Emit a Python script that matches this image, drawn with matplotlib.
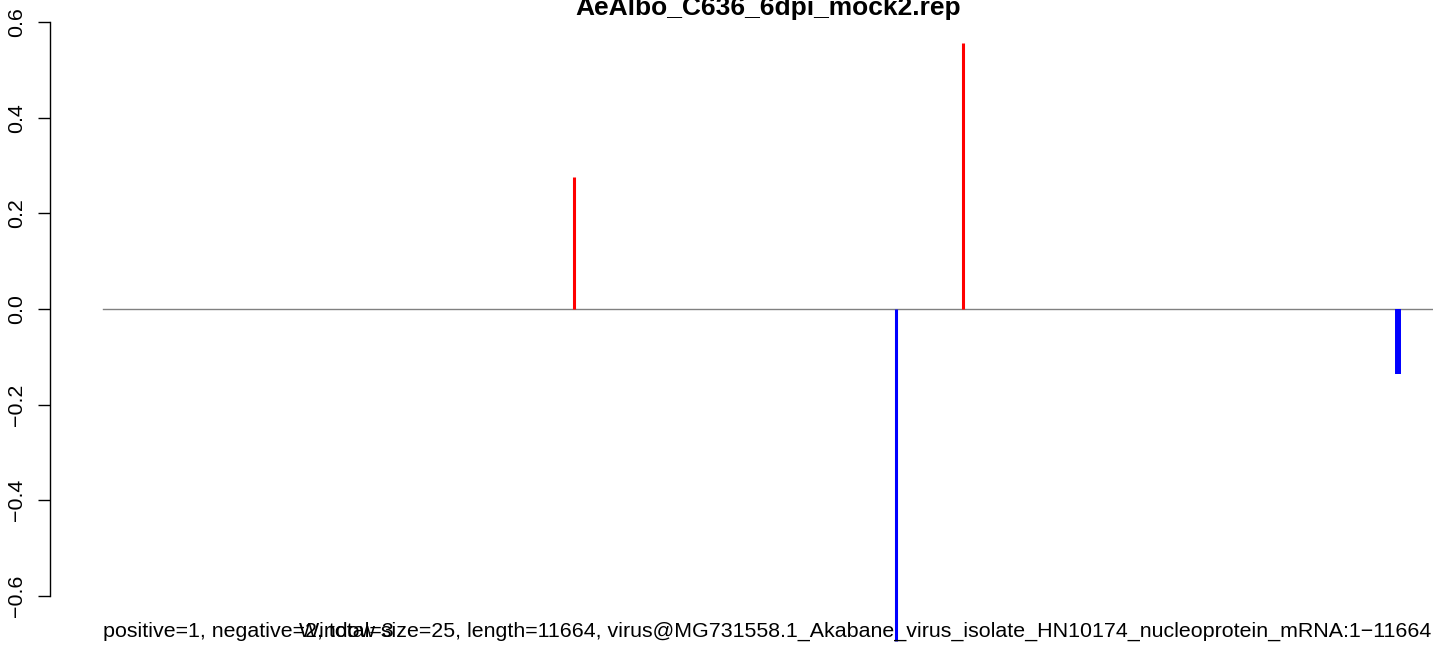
# profil positif / négatif le long du génome viral
import matplotlib.pyplot as plt

plt.rcParams['font.family'] = ['Liberation Sans', 'DejaVu Sans']

# données
longueur = 11664
pos_x = [4131, 7542]
pos_y = [0.277, 0.556]
neg_x = [6955, 11357]
neg_y = [-0.695, -0.136]
yticks = [-0.6, -0.4, -0.2, 0.0, 0.2, 0.4, 0.6]
titre = "AeAlbo_C636_6dpi_mock2.rep"
texte_gauche = "positive=1, negative=2, total=3"
texte_droite = ("Window size=25, length=11664, "
                "virus@MG731558.1_Akabane_virus_isolate_HN10174_nucleoprotein_mRNA:1\u221211664")

W, H = 1433, 645
fig = plt.figure(figsize=(W / 100, H / 100), dpi=100)
ax = fig.add_axes([0, 0, 1, 1])

# conversion pixels -> données (axe occupe toute la figure)
x0_px, x1_px = 103, 1433
y0_px, unite_px = 309, 478.3
echelle_x = longueur / (x1_px - x0_px)
ax.set_xlim(-x0_px * echelle_x, (W - x0_px) * echelle_x)
ax.set_ylim(-(H - y0_px) / unite_px, y0_px / unite_px)

# ligne du zéro
ax.plot([0, longueur], [0, 0], color='#808080', lw=1)

# barres
ax.vlines(pos_x, 0, pos_y, colors='red', linewidths=[2.2, 2.2])
ax.vlines(neg_x, 0, neg_y, colors='blue', linewidths=[2.2, 4.3])

# axe y façon R
for s in ['top', 'right', 'bottom']:
    ax.spines[s].set_visible(False)
ax.spines['left'].set_position(('data', (50 - x0_px) * echelle_x))
ax.spines['left'].set_bounds(-0.6, 0.6)
ax.spines['left'].set_linewidth(1)
ax.set_xticks([])
ax.set_yticks(yticks)
ax.set_yticklabels(['\u22120.6', '\u22120.4', '\u22120.2', '0.0', '0.2', '0.4', '0.6'],
                   rotation=90, va='center', fontsize=15.4)
ax.tick_params(axis='y', length=8.6, width=1, pad=8.5)

# titre et textes du bas
ax.text((768 - x0_px) * echelle_x, (y0_px - 15) / unite_px, titre,
        ha='center', va='baseline', fontsize=19, fontweight='bold')
y_txt = (y0_px - 637) / unite_px
ax.text(0, y_txt, texte_gauche, ha='left', va='baseline', fontsize=15.4)
ax.text((1431 - x0_px) * echelle_x, y_txt, texte_droite, ha='right', va='baseline', fontsize=15.4)

fig.savefig('out.png', dpi=100)
